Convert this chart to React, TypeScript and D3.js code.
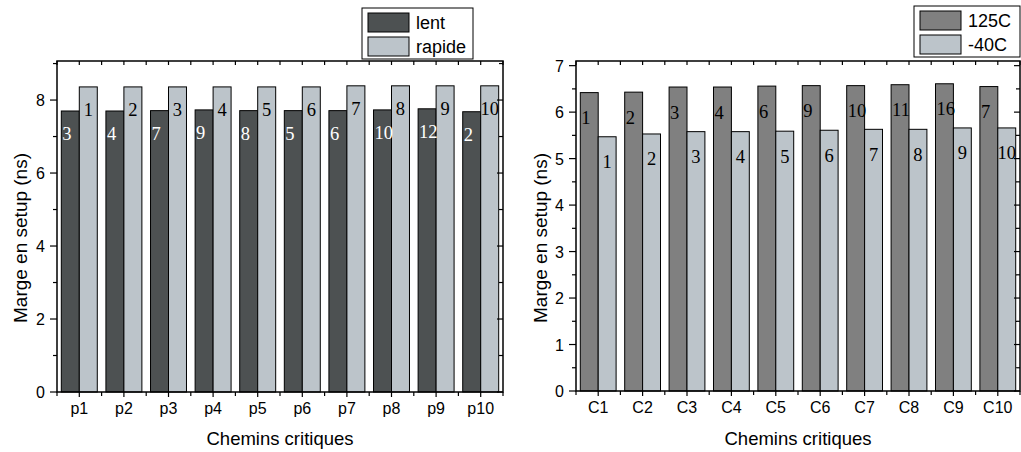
import React from 'react';
import * as d3 from 'd3';

// left panel: paths p1..p10, slow vs fast corner
const pathsLeft = ['p1', 'p2', 'p3', 'p4', 'p5', 'p6', 'p7', 'p8', 'p9', 'p10'];
const lentValues = [7.70, 7.70, 7.71, 7.73, 7.71, 7.71, 7.71, 7.73, 7.76, 7.68];
const rapideValues = [8.36, 8.36, 8.36, 8.36, 8.36, 8.36, 8.39, 8.39, 8.39, 8.39];
const lentRanks = ['3', '4', '7', '9', '8', '5', '6', '10', '12', '2'];
const rapideRanks = ['1', '2', '3', '4', '5', '6', '7', '8', '9', '10'];

// right panel: paths C1..C10, 125C vs -40C
const pathsRight = ['C1', 'C2', 'C3', 'C4', 'C5', 'C6', 'C7', 'C8', 'C9', 'C10'];
const hotValues = [6.42, 6.43, 6.54, 6.54, 6.56, 6.57, 6.57, 6.59, 6.61, 6.55];
const coldValues = [5.47, 5.53, 5.58, 5.58, 5.59, 5.61, 5.63, 5.63, 5.66, 5.66];
const hotRanks = ['1', '2', '3', '4', '6', '9', '10', '11', '16', '7'];
const coldRanks = ['1', '2', '3', '4', '5', '6', '7', '8', '9', '10'];

const yTicksLeft = [0, 2, 4, 6, 8];
const yMinorLeft = [1, 3, 5, 7, 9];
const yTicksRight = [0, 1, 2, 3, 4, 5, 6, 7];
const yMinorRight = [0.5, 1.5, 2.5, 3.5, 4.5, 5.5, 6.5];

const SANS = 'Liberation Sans, Arial, sans-serif';
const SERIF = 'Liberation Serif, Times New Roman, serif';

interface PanelProps {
  x0: number, x1: number, yTop: number, yBottom: number,
  yMax: number,
  categories: string[],
  seriesNames: [string, string],
  seriesA: number[], seriesB: number[],
  ranksA: string[], ranksB: string[],
  colorA: string, colorB: string,
  rankColorA: string,
  labelDrop: number,
  yTicks: number[], yMinor: number[],
  titleX: number,
  legend: {x: number, y: number, w: number, h: number},
}

const Panel: React.FC<PanelProps> = (p) => {
  const x = d3.scaleBand().domain(p.categories).range([p.x0, p.x1]).padding(0);
  const inner = d3.scaleBand().domain(p.seriesNames).range([0, x.bandwidth()])
      .paddingInner(0).paddingOuter(0.24);
  const y = d3.scaleLinear().domain([0, p.yMax]).range([p.yBottom, p.yTop]);
  const bw = inner.bandwidth();

  const boundaries = d3.range(p.categories.length + 1).map(i => p.x0 + i * x.step());
  const centers = p.categories.map(c => (x(c) as number) + x.bandwidth() / 2);

  return (
      <g>
        {/* bars */}
        {p.categories.map((c, i) => {
          const gx = x(c) as number;
          const xa = gx + (inner(p.seriesNames[0]) as number);
          const xb = gx + (inner(p.seriesNames[1]) as number);
          return (
              <g key={c}>
                <rect x={xa} y={y(p.seriesA[i])} width={bw} height={p.yBottom - y(p.seriesA[i])}
                      fill={p.colorA} stroke="#000" strokeWidth={1}/>
                <rect x={xb} y={y(p.seriesB[i])} width={bw} height={p.yBottom - y(p.seriesB[i])}
                      fill={p.colorB} stroke="#000" strokeWidth={1}/>
                <text x={xa + 1} y={y(p.seriesA[i]) + p.labelDrop} fill={p.rankColorA}
                      fontFamily={SERIF} fontSize={18.5}>{p.ranksA[i]}</text>
                <text x={xb + bw / 2} y={y(p.seriesB[i]) + p.labelDrop} fill="#000"
                      textAnchor="middle" fontFamily={SERIF} fontSize={18.5}>{p.ranksB[i]}</text>
              </g>
          );
        })}

        {/* frame */}
        <rect x={p.x0} y={p.yTop} width={p.x1 - p.x0} height={p.yBottom - p.yTop}
              fill="none" stroke="#000" strokeWidth={1.5}/>

        {/* x ticks bottom (out) and top (in) */}
        {boundaries.map((bx, i) => (
            <g key={'b' + i}>
              <line x1={bx} x2={bx} y1={p.yBottom} y2={p.yBottom + 4} stroke="#000" strokeWidth={1.2}/>
              <line x1={bx} x2={bx} y1={p.yTop} y2={p.yTop + 4} stroke="#000" strokeWidth={1.2}/>
            </g>
        ))}
        {centers.map((cx, i) => (
            <g key={'c' + i}>
              <line x1={cx} x2={cx} y1={p.yBottom} y2={p.yBottom + 5} stroke="#000" strokeWidth={1.2}/>
              <line x1={cx} x2={cx} y1={p.yTop} y2={p.yTop + 4} stroke="#000" strokeWidth={1.2}/>
              <text x={cx} y={p.yBottom + 22} textAnchor="middle" fontFamily={SANS} fontSize={16}>
                {p.categories[i]}
              </text>
            </g>
        ))}

        {/* y ticks */}
        {p.yTicks.map(t => (
            <g key={'y' + t}>
              <line x1={p.x0 - 7} x2={p.x0} y1={y(t)} y2={y(t)} stroke="#000" strokeWidth={1.2}/>
              <line x1={p.x1} x2={p.x1 - 6} y1={y(t)} y2={y(t)} stroke="#000" strokeWidth={1.2}/>
              <text x={p.x0 - 12} y={y(t) + 6} textAnchor="end" fontFamily={SANS} fontSize={16}>{t}</text>
            </g>
        ))}
        {p.yMinor.filter(t => t <= p.yMax).map(t => (
            <g key={'m' + t}>
              <line x1={p.x0 - 4} x2={p.x0} y1={y(t)} y2={y(t)} stroke="#000" strokeWidth={1.2}/>
              <line x1={p.x1} x2={p.x1 - 4} y1={y(t)} y2={y(t)} stroke="#000" strokeWidth={1.2}/>
            </g>
        ))}

        {/* axis titles */}
        <text x={(p.x0 + p.x1) / 2} y={445} textAnchor="middle" fontFamily={SANS} fontSize={18.5}>
          Chemins critiques
        </text>
        <text transform={`translate(${p.titleX},238) rotate(-90)`} textAnchor="middle"
              fontFamily={SANS} fontSize={19}>Marge en setup (ns)</text>

        {/* legend */}
        <g transform={`translate(${p.legend.x},${p.legend.y})`}>
          <rect x={0} y={0} width={p.legend.w} height={p.legend.h} fill="#fff" stroke="#000" strokeWidth={1}/>
          {p.seriesNames.map((name, i) => (
              <g key={name} transform={`translate(0,${5 + i * 24})`}>
                <rect x={6} y={0} width={41} height={19} fill={i === 0 ? p.colorA : p.colorB}
                      stroke="#000" strokeWidth={1}/>
                <text x={54} y={16} fontFamily={SANS} fontSize={18}>{name}</text>
              </g>
          ))}
        </g>
      </g>
  );
};

export default function App() {
  return (
      <svg width={1021} height={452} style={{position: 'absolute', left: 0, top: 0, background: '#fff'}}>
        <Panel x0={57} x1={503} yTop={61} yBottom={392} yMax={9.07}
               categories={pathsLeft} seriesNames={['lent', 'rapide']}
               seriesA={lentValues} seriesB={rapideValues}
               ranksA={lentRanks} ranksB={rapideRanks}
               colorA="#4d5152" colorB="#bcc4ca" rankColorA="#fff"
               labelDrop={29} yTicks={yTicksLeft} yMinor={yMinorLeft}
               titleX={27} legend={{x: 362, y: 8, w: 111, h: 51}}/>
        <Panel x0={576} x1={1020} yTop={61} yBottom={391} yMax={7.1}
               categories={pathsRight} seriesNames={['125C', '-40C']}
               seriesA={hotValues} seriesB={coldValues}
               ranksA={hotRanks} ranksB={coldRanks}
               colorA="#808080" colorB="#bcc4ca" rankColorA="#000"
               labelDrop={31.5} yTicks={yTicksRight} yMinor={yMinorRight}
               titleX={547} legend={{x: 914, y: 6, w: 106, h: 51}}/>
      </svg>
  );
}
